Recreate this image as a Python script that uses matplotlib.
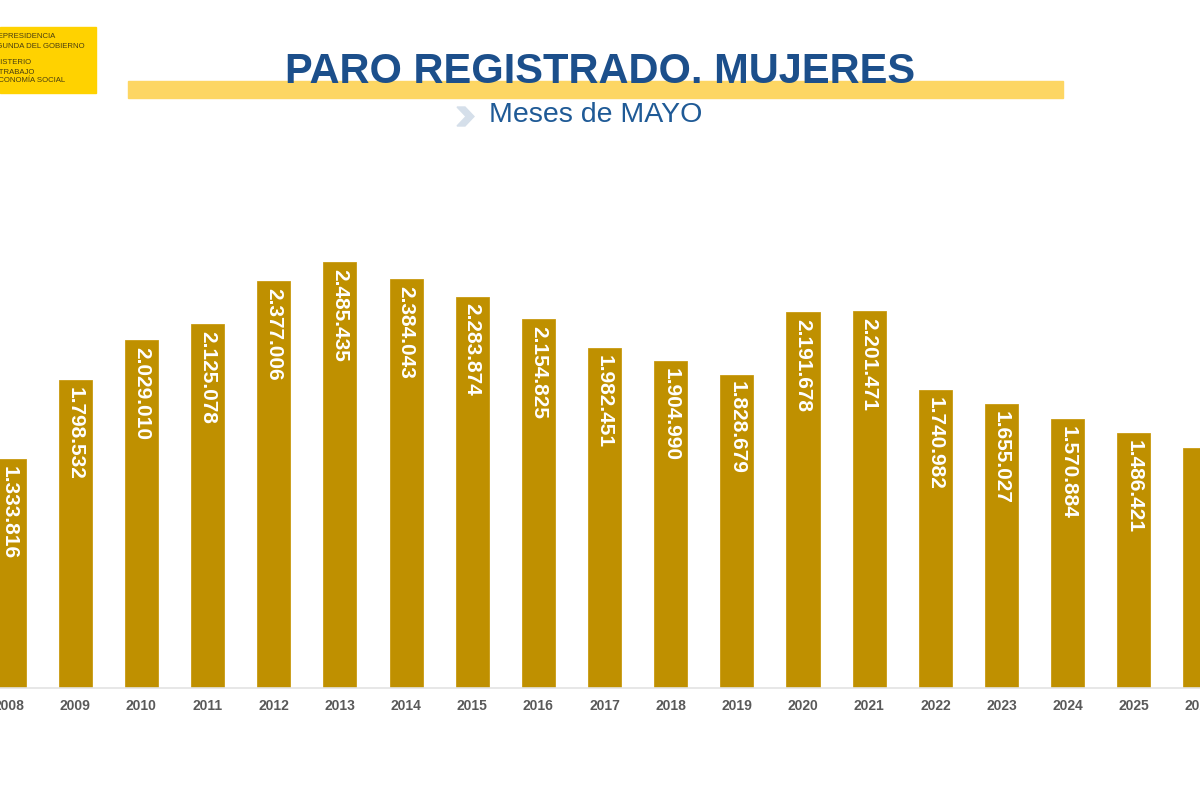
import matplotlib
matplotlib.use("Agg")
import matplotlib.pyplot as plt
from matplotlib.patches import Rectangle, Polygon

years = ["2008", "2009", "2010", "2011", "2012", "2013", "2014", "2015", "2016",
         "2017", "2018", "2019", "2020", "2021", "2022", "2023", "2024", "2025", "2026"]
values = [1333816, 1798532, 2029010, 2125078, 2377006, 2485435, 2384043, 2283874,
          2154825, 1982451, 1904990, 1828679, 2191678, 2201471, 1740982, 1655027,
          1570884, 1486421, 1400000]
labels = ["1.333.816", "1.798.532", "2.029.010", "2.125.078", "2.377.006", "2.485.435",
          "2.384.043", "2.283.874", "2.154.825", "1.982.451", "1.904.990", "1.828.679",
          "2.191.678", "2.201.471", "1.740.982", "1.655.027", "1.570.884", "1.486.421", ""]

W, H = 1200, 800
fig = plt.figure(figsize=(12, 8), dpi=100)
fig.patch.set_facecolor("white")
plt.rcParams['font.family'] = ['Liberation Sans', 'DejaVu Sans']

bar_color = "#BF9000"
ax = fig.add_axes([0, 0.14, 1, 0.58])
x = list(range(len(years)))
ax.bar(x, values, width=0.5, color=bar_color, edgecolor="#C99A10", linewidth=0.6, zorder=2)
ax.set_xlim(-9.2 / 66.8, (W - 9.2) / 66.8)
ax.set_ylim(0, 2707000)
for s in ["top", "right", "left"]:
    ax.spines[s].set_visible(False)
ax.spines["bottom"].set_color("#E3E3E3")
ax.spines["bottom"].set_linewidth(1.2)
ax.set_yticks([])
ax.set_xticks(x)
ax.set_xticklabels(years, fontsize=10, fontweight="bold", color="#595959")
ax.tick_params(axis="x", length=0, pad=8)
ax.set_facecolor("none")

for xi, v, lab in zip(x, values, labels):
    if lab:
        ax.annotate(lab, (xi, v), xytext=(0, -5), textcoords="offset points",
                    rotation=270, ha="center", va="top", color="white",
                    fontsize=15, fontweight="bold", zorder=3)

# yellow stripe behind title
fig.patches.append(Rectangle((128 / W, 1 - 98 / H), (1063 - 128) / W, 17 / H,
                             transform=fig.transFigure, color="#FDD663", zorder=0))
fig.text(600 / W, 1 - 72 / H, "PARO REGISTRADO. MUJERES", ha="center", va="center",
         fontsize=30, fontweight="bold", color="#1C4F8B", zorder=2)
fig.text(489 / W, 1 - 115 / H, "Meses de MAYO", ha="left", va="center",
         fontsize=20.5, color="#1F5A96")
# chevron
fig.patches.append(Polygon([(457 / W, 1 - 107 / H), (465 / W, 1 - 107 / H),
                            (474 / W, 1 - 116.5 / H), (465 / W, 1 - 126 / H),
                            (457 / W, 1 - 126 / H), (466 / W, 1 - 116.5 / H)],
                           closed=True, transform=fig.transFigure, color="#D5DFEA"))

# logo box
fig.patches.append(Rectangle((0, 1 - 93 / H), 96 / W, 66 / H,
                             transform=fig.transFigure, color="#FFD200", zorder=0))
logo_lines = [("VICEPRESIDENCIA", 37), ("SEGUNDA DEL GOBIERNO", 47),
              ("MINISTERIO", 63), ("DE TRABAJO", 72), ("Y ECONOMÍA SOCIAL", 81)]
for txt, yy in logo_lines:
    fig.text(-14 / W, 1 - yy / H, txt, ha="left", va="center", fontsize=5.6,
             color="#4A3F10")

fig.savefig("out.png", dpi=100, facecolor="white")
